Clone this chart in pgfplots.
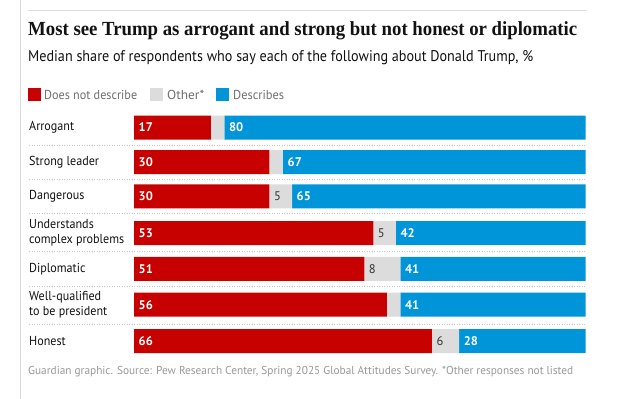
\documentclass[border=0pt]{standalone}
\usepackage{pgfplots}
\pgfplotsset{compat=1.18}
\usepackage{fontspec}
\setmainfont{PT Sans}
\newfontfamily\narrowfont{PT Sans}[FakeStretch=0.93]
\newfontfamily\titlefont{Liberation Serif}
\definecolor{gred}{HTML}{C70000}
\definecolor{ggray}{HTML}{DCDCDC}
\definecolor{gblue}{HTML}{0094D9}
\definecolor{labelc}{HTML}{121212}
\definecolor{legc}{HTML}{707070}
\definecolor{footc}{HTML}{999999}
\definecolor{linec}{HTML}{DCDCDC}
\definecolor{dotc}{HTML}{C8C8C8}
\definecolor{grayval}{HTML}{333333}
\newcommand\rowfont{\narrowfont\fontsize{13bp}{15bp}\selectfont}
\newcommand\valfont{\fontsize{12.5bp}{14bp}\selectfont}
\begin{document}
\begin{tikzpicture}[
  wl/.style={anchor=west, xshift=4.5bp, inner sep=0pt, text=white, font=\valfont\bfseries},
  gl/.style={anchor=west, xshift=4.5bp, inner sep=0pt, text=grayval, font=\valfont}]
\path[use as bounding box, fill=white] (0,0) rectangle (621bp,-399bp);
\draw[linec, line width=1bp] (20bp,0) -- (20bp,-399bp);
\draw[linec, line width=1bp] (28bp,-10.7bp) -- (585.5bp,-10.7bp);
\node[anchor=base west, inner sep=0pt, text=labelc] at (28bp,-36bp)
  {\resizebox{549bp}{\height}{\titlefont\bfseries\fontsize{20bp}{24bp}\selectfont Most see Trump as arrogant and strong but not honest or diplomatic}};
\node[anchor=base west, inner sep=0pt, text=labelc] at (28bp,-61bp)
  {\resizebox{505bp}{\height}{\fontsize{15.5bp}{18bp}\selectfont Median share of respondents who say each of the following about Donald Trump, \%}};
% legend
\fill[gred] (28bp,-88bp) rectangle (41bp,-101bp);
\node[anchor=base west, inner sep=0pt, text=legc] at (44bp,-99.3bp) {\resizebox{93bp}{\height}{\fontsize{13bp}{15bp}\selectfont Does not describe}};
\fill[ggray] (150bp,-88bp) rectangle (163bp,-101bp);
\node[anchor=base west, inner sep=0pt, text=legc] at (167bp,-99.3bp) {\resizebox{37bp}{\height}{\fontsize{13bp}{15bp}\selectfont Other*}};
\fill[gblue] (216bp,-88bp) rectangle (229bp,-101bp);
\node[anchor=base west, inner sep=0pt, text=legc] at (233bp,-99.3bp) {\resizebox{51bp}{\height}{\fontsize{13bp}{15bp}\selectfont Describes}};
% separators
\foreach \yy in {145.3,179.3,213.3,251,286.7,324}
  \draw[dotc, line width=0.9bp, dash pattern=on 1bp off 1.5bp] (29bp,-\yy bp) -- (585.5bp,-\yy bp);
\begin{axis}[
  at={(134bp,-100bp)}, anchor=north west,
  width=451.5bp, height=260bp, scale only axis,
  xmin=0, xmax=100, ymin=100, ymax=360, y dir=reverse,
  xbar stacked, bar width=24,
  axis line style={draw=none}, xtick=\empty, major tick length=0pt,
  ytick={127.5,162,196.3,233,268.8,304.7,341},
  yticklabels={Arrogant, Strong leader, Dangerous, {Understands\\complex problems}, Diplomatic, {Well-qualified\\to be president}, Honest},
  yticklabel style={anchor=west, xshift=-105bp, align=left, inner sep=0pt, font=\rowfont, text=labelc},
  clip=false,
]
\addplot[fill=gred, draw=none] coordinates {
  (17,127.5) (30,162) (30,196.3) (53,233) (51,268.8) (56,304.7) (66,341)};
\addplot[fill=ggray, draw=none] coordinates {
  (3,127.5) (3,162) (5,196.3) (5,233) (8,268.8) (3,304.7) (6,341)};
\addplot[fill=gblue, draw=none] coordinates {
  (80,127.5) (67,162) (65,196.3) (42,233) (41,268.8) (41,304.7) (28,341)};
% anchor points for value labels
\coordinate (a1) at (axis cs:0,127.5);
\coordinate (a3) at (axis cs:20,127.5);
\coordinate (b1) at (axis cs:0,162);
\coordinate (b3) at (axis cs:33,162);
\coordinate (c1) at (axis cs:0,196.3);
\coordinate (c2) at (axis cs:30,196.3);
\coordinate (c3) at (axis cs:35,196.3);
\coordinate (d1) at (axis cs:0,233);
\coordinate (d2) at (axis cs:53,233);
\coordinate (d3) at (axis cs:58,233);
\coordinate (e1) at (axis cs:0,268.8);
\coordinate (e2) at (axis cs:51,268.8);
\coordinate (e3) at (axis cs:59,268.8);
\coordinate (f1) at (axis cs:0,304.7);
\coordinate (f3) at (axis cs:59,304.7);
\coordinate (g1) at (axis cs:0,341);
\coordinate (g2) at (axis cs:66,341);
\coordinate (g3) at (axis cs:72,341);
\end{axis}
\node[wl] at (a1) {17};
\node[wl] at (a3) {80};
\node[wl] at (b1) {30};
\node[wl] at (b3) {67};
\node[wl] at (c1) {30};
\node[gl] at (c2) {5};
\node[wl] at (c3) {65};
\node[wl] at (d1) {53};
\node[gl] at (d2) {5};
\node[wl] at (d3) {42};
\node[wl] at (e1) {51};
\node[gl] at (e2) {8};
\node[wl] at (e3) {41};
\node[wl] at (f1) {56};
\node[wl] at (f3) {41};
\node[wl] at (g1) {66};
\node[gl] at (g2) {6};
\node[wl] at (g3) {28};
\node[anchor=base west, inner sep=0pt, text=footc] at (28bp,-374bp)
  {\resizebox{545bp}{\height}{\fontsize{11.5bp}{14bp}\selectfont Guardian graphic. Source: Pew Research Center, Spring 2025 Global Attitudes Survey. *Other responses not listed}};
\end{tikzpicture}
\end{document}
